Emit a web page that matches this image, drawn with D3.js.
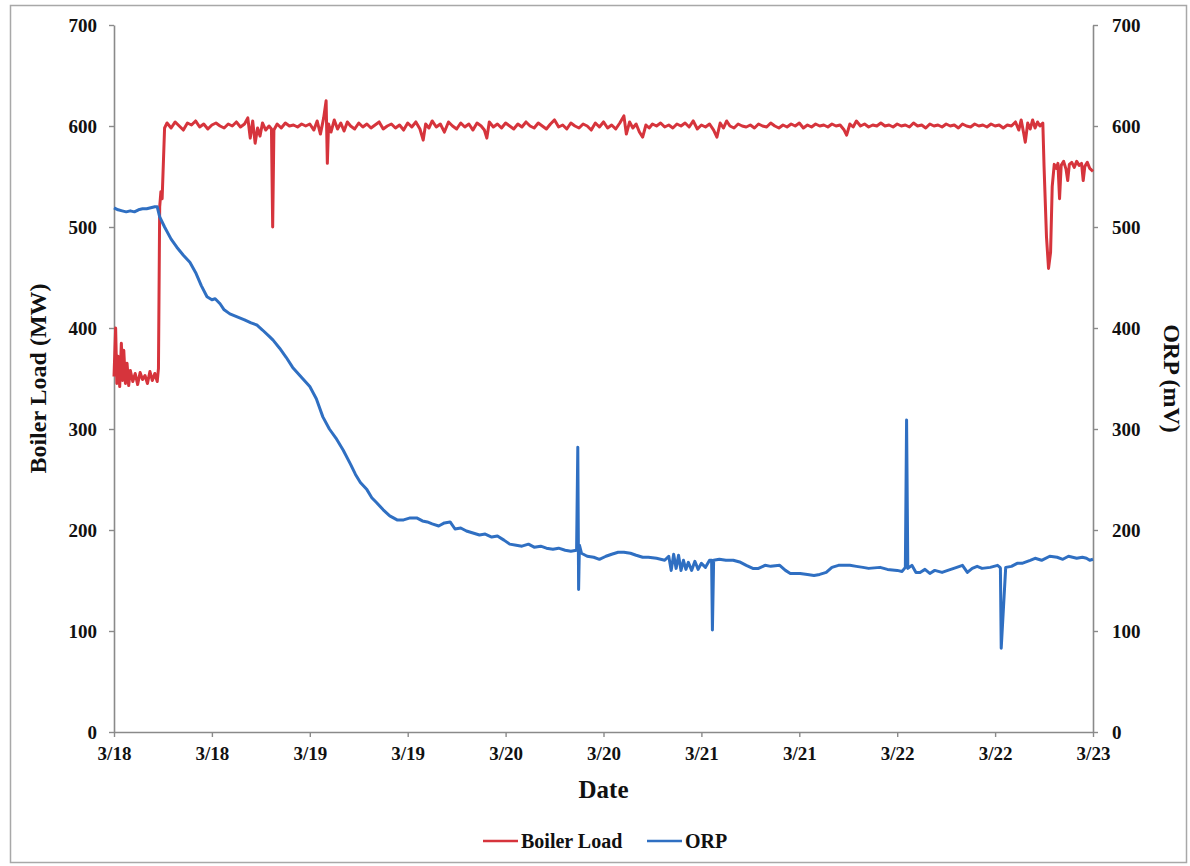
<!DOCTYPE html>
<html>
<head>
<meta charset="utf-8">
<script src="https://cdn.jsdelivr.net/npm/d3@7"></script>
<style>
  html, body { margin: 0; padding: 0; background: #fff; }
  svg { display: block; }
  text { font-family: "Liberation Serif", "Times New Roman", serif; font-weight: bold; fill: #111; }
</style>
</head>
<body>
<svg id="chart" width="1190" height="866"></svg>
<script>
// ---- data (hours since 3/18 00:00, value) ----
const startDate = new Date(2010, 2, 18, 0, 0, 0);
const xTickLabels = ["3/18","3/18","3/19","3/19","3/20","3/20","3/21","3/21","3/22","3/22","3/23"];
const yTicksLeft = [0,100,200,300,400,500,600,700];
const yTicksRight = [0,100,200,300,400,500,600,700];
const seriesNames = ["Boiler Load", "ORP"];

const boilerHours = [0.0,0.2,0.35,0.5,0.7,0.9,1.05,1.2,1.4,1.6,1.8,2.0,2.3,2.6,2.9,3.2,3.5,3.8,4.1,4.4,4.7,5.0,5.3,5.45,5.6,5.75,5.9,6.2,6.5,7.0,7.5,8.0,8.5,9.0,9.5,10.0,10.5,11.0,11.5,12.0,12.5,13.0,13.5,14.0,14.5,15.0,15.5,16.0,16.4,16.7,17.0,17.3,17.6,17.9,18.2,18.6,19.0,19.3,19.45,19.6,20.0,20.5,21.0,21.5,22.0,22.5,23.0,23.5,24.0,24.5,24.9,25.3,25.7,26.0,26.15,26.3,26.6,27.0,27.4,27.8,28.2,28.6,29.0,29.5,30.0,30.5,31.0,31.5,32.0,32.5,33.0,33.5,34.0,34.5,35.0,35.5,36.0,36.5,37.0,37.5,37.9,38.2,38.6,39.0,39.5,40.0,40.5,41.0,41.5,42.0,42.5,43.0,43.5,44.0,44.5,45.0,45.4,45.7,46.0,46.5,47.0,47.5,48.0,48.5,49.0,49.5,50.0,50.5,51.0,51.5,52.0,52.5,53.0,53.5,54.0,54.5,55.0,55.5,56.0,56.5,57.0,57.5,58.0,58.5,59.0,59.5,60.0,60.5,61.0,61.5,62.0,62.5,62.8,63.2,63.6,64.0,64.4,64.8,65.2,65.6,66.0,66.5,67.0,67.5,68.0,68.5,69.0,69.5,70.0,70.5,71.0,71.5,72.0,72.5,73.0,73.5,73.9,74.3,74.7,75.1,75.5,76.0,76.5,77.0,77.5,78.0,78.5,79.0,79.5,80.0,80.5,81.0,81.5,82.0,82.5,83.0,83.5,84.0,84.5,85.0,85.5,86.0,86.5,87.0,87.5,88.0,88.5,89.0,89.5,89.8,90.2,90.6,91.0,91.5,92.0,92.5,93.0,93.5,94.0,94.5,95.0,95.5,96.0,96.5,97.0,97.5,98.0,98.5,99.0,99.5,100.0,100.5,101.0,101.5,102.0,102.5,103.0,103.5,104.0,104.5,105.0,105.5,106.0,106.5,107.0,107.5,108.0,108.5,109.0,109.5,110.0,110.5,110.9,111.2,111.5,111.7,112.0,112.3,112.6,112.9,113.2,113.5,113.85,114.0,114.3,114.55,114.8,115.0,115.25,115.5,115.7,115.9,116.1,116.4,116.7,116.9,117.1,117.4,117.7,118.0,118.3,118.6,118.8,119.0,119.3,119.6,120.0];
const boilerLoad = [352,400,345,372,342,385,348,378,345,365,343,358,347,355,344,356,349,353,345,357,348,355,347,360,520,535,528,598,603,598,604,600,596,603,601,605,599,602,597,601,603,600,598,602,600,604,599,602,608,588,605,583,598,590,603,596,600,597,500,596,602,598,603,600,601,599,602,600,602,596,605,592,608,625,563,602,594,606,597,603,595,604,600,597,603,599,602,598,601,604,597,600,602,598,601,596,603,599,604,597,586,602,598,605,599,602,594,604,600,597,603,599,602,596,603,600,596,588,604,599,602,598,603,600,597,602,599,604,600,598,603,600,597,602,606,599,601,597,603,600,598,602,600,596,603,599,604,598,601,597,603,610,592,604,598,602,594,589,601,598,602,600,603,599,601,598,602,600,603,599,605,597,601,599,602,596,589,603,598,605,600,598,602,600,599,601,598,602,600,599,603,600,598,601,599,602,600,603,598,601,599,602,600,601,599,602,600,601,596,591,602,599,605,600,602,599,601,600,603,600,601,599,602,600,601,599,603,600,601,598,602,600,601,599,602,600,601,598,602,600,599,602,600,601,599,602,600,601,598,601,600,604,596,606,593,584,603,597,606,598,604,600,603,560,490,459,475,540,562,558,563,528,561,565,557,546,562,564,559,565,561,563,546,560,564,558,555];

const orpHours = [0,0.5,1,1.5,2,2.5,3,3.5,4,4.5,5,5.3,5.6,6.2,7.0,7.7,8.5,9.3,10.0,10.7,11.4,12.0,12.4,13.0,13.5,14.2,15.1,16.0,16.8,17.5,18.2,19.0,19.5,20.3,21.1,21.9,23.0,24.0,24.8,25.6,26.4,27.2,28.1,29.0,29.6,30.2,31.0,31.6,32.2,33.0,33.8,34.7,35.5,36.3,37.1,37.8,38.4,39.0,39.8,40.5,41.2,41.8,42.5,43.2,44.0,44.8,45.5,46.3,47.0,47.8,48.5,49.3,50.0,50.8,51.5,52.3,53.0,53.8,54.5,55.3,56.0,56.7,56.85,56.95,57.05,57.3,58.0,58.8,59.5,60.3,61.0,61.8,62.5,63.3,64.0,64.8,65.5,66.5,67.5,68.0,68.3,68.6,68.9,69.2,69.5,69.8,70.1,70.4,70.8,71.2,71.6,72.0,72.5,73.0,73.25,73.35,73.5,74.2,75.0,75.9,76.8,77.5,78.3,79.0,79.8,80.5,81.6,82.3,82.9,84.1,85.0,85.8,86.5,87.3,88.0,88.8,90.2,91.0,91.8,92.5,93.9,94.8,96.0,96.6,97.0,97.15,97.3,97.8,98.3,98.8,99.4,100.0,100.6,101.5,102.2,103.3,104.0,104.6,105.2,105.8,106.4,107.4,108.3,108.6,108.65,108.75,109.3,110.0,110.7,111.3,112.3,112.9,113.7,114.7,115.6,116.3,117.0,118.0,118.7,119.2,119.6,120.0];
const orp = [519,517,516,515,516,515,517,518,518,519,520,520,510,500,488,480,472,465,455,442,431,428,429,424,418,414,411,408,405,403,398,392,388,380,371,361,351,342,330,312,300,291,279,265,255,247,240,232,227,220,214,210,210,212,212,209,208,206,204,207,208,201,202,199,197,195,196,193,194,190,186,185,184,186,183,184,182,181,182,180,179,180,282,141,185,177,174,173,171,174,176,178,178,177,175,173,173,172,170,174,160,176,162,175,160,170,161,168,160,169,161,167,163,170,170,101,170,171,170,170,168,165,162,162,165,164,165,160,157,157,156,155,156,158,163,165,165,164,163,162,163,161,160,159,163,309,162,165,158,158,161,157,160,158,160,163,165,158,162,164,162,163,165,163,162,83,163,164,167,167,170,172,170,174,173,171,174,172,173,172,170,171,166,165];

// ---- layout ----
const svg = d3.select("#chart");
const plot = { left: 114, right: 1093, top: 25, bottom: 732 };
const RED = "#d6343c", BLUE = "#2f6fc2", AXIS = "#8a8a8a";

svg.append("rect").attr("x", 10.5).attr("y", 5.5).attr("width", 1176).attr("height", 857)
  .attr("fill", "#fff").attr("stroke", "#a8a8a8").attr("stroke-width", 1.5);

const toDate = h => new Date(startDate.getTime() + h * 3600 * 1000);
const x = d3.scaleTime().domain([toDate(0), toDate(120)]).range([plot.left, plot.right]);
const yL = d3.scaleLinear().domain([0, 700]).range([plot.bottom, plot.top]);
const yR = d3.scaleLinear().domain([0, 700]).range([plot.bottom, plot.top]);

const xTicks = d3.range(0, 121, 12).map(toDate);

function styleAxis(g) {
  g.select(".domain").attr("stroke", AXIS).attr("stroke-width", 1.6);
  g.selectAll(".tick line").attr("stroke", AXIS).attr("stroke-width", 1.4);
  g.selectAll(".tick text").attr("font-family", "Liberation Serif, Times New Roman, serif")
    .attr("font-weight", "bold").attr("font-size", 19).attr("fill", "#111");
}

const gx = svg.append("g").attr("transform", `translate(0,${plot.bottom})`)
  .call(d3.axisBottom(x).tickValues(xTicks).tickSize(5).tickSizeOuter(0).tickPadding(10)
    .tickFormat((d, i) => xTickLabels[i]));
styleAxis(gx);

const gl = svg.append("g").attr("transform", `translate(${plot.left},0)`)
  .call(d3.axisLeft(yL).tickValues(yTicksLeft).tickSize(5).tickSizeOuter(0).tickPadding(12).tickFormat(d3.format("d")));
styleAxis(gl);

const gr = svg.append("g").attr("transform", `translate(${plot.right},0)`)
  .call(d3.axisRight(yR).tickValues(yTicksRight).tickSize(5).tickSizeOuter(0).tickPadding(14).tickFormat(d3.format("d")));
styleAxis(gr);

// ---- lines ----
const boilerData = boilerHours.map((h, i) => [toDate(h), boilerLoad[i]]);
const orpData = orpHours.map((h, i) => [toDate(h), orp[i]]);

svg.append("path").datum(boilerData)
  .attr("fill", "none").attr("stroke", RED).attr("stroke-width", 3).attr("stroke-linejoin", "round")
  .attr("d", d3.line().x(d => x(d[0])).y(d => yL(d[1])));

svg.append("path").datum(orpData)
  .attr("fill", "none").attr("stroke", BLUE).attr("stroke-width", 3).attr("stroke-linejoin", "round")
  .attr("d", d3.line().x(d => x(d[0])).y(d => yR(d[1])));

// ---- titles ----
svg.append("text").attr("transform", `translate(46,${(plot.top + plot.bottom) / 2}) rotate(-90)`)
  .attr("text-anchor", "middle").attr("font-size", 24).text("Boiler Load (MW)");
svg.append("text").attr("transform", `translate(1164,${(plot.top + plot.bottom) / 2}) rotate(90)`)
  .attr("text-anchor", "middle").attr("font-size", 24).text("ORP (mV)");
svg.append("text").attr("x", (plot.left + plot.right) / 2).attr("y", 798)
  .attr("text-anchor", "middle").attr("font-size", 25).text("Date");

// ---- legend ----
const legend = svg.append("g");
const legendItems = [
  { name: seriesNames[0], color: RED, x: 483 },
  { name: seriesNames[1], color: BLUE, x: 647 }
];
legendItems.forEach(it => {
  legend.append("line").attr("x1", it.x).attr("x2", it.x + 35).attr("y1", 841).attr("y2", 841)
    .attr("stroke", it.color).attr("stroke-width", 2.6);
  legend.append("text").attr("x", it.x + 38).attr("y", 848).attr("font-size", 20).text(it.name);
});
</script>
</body>
</html>
